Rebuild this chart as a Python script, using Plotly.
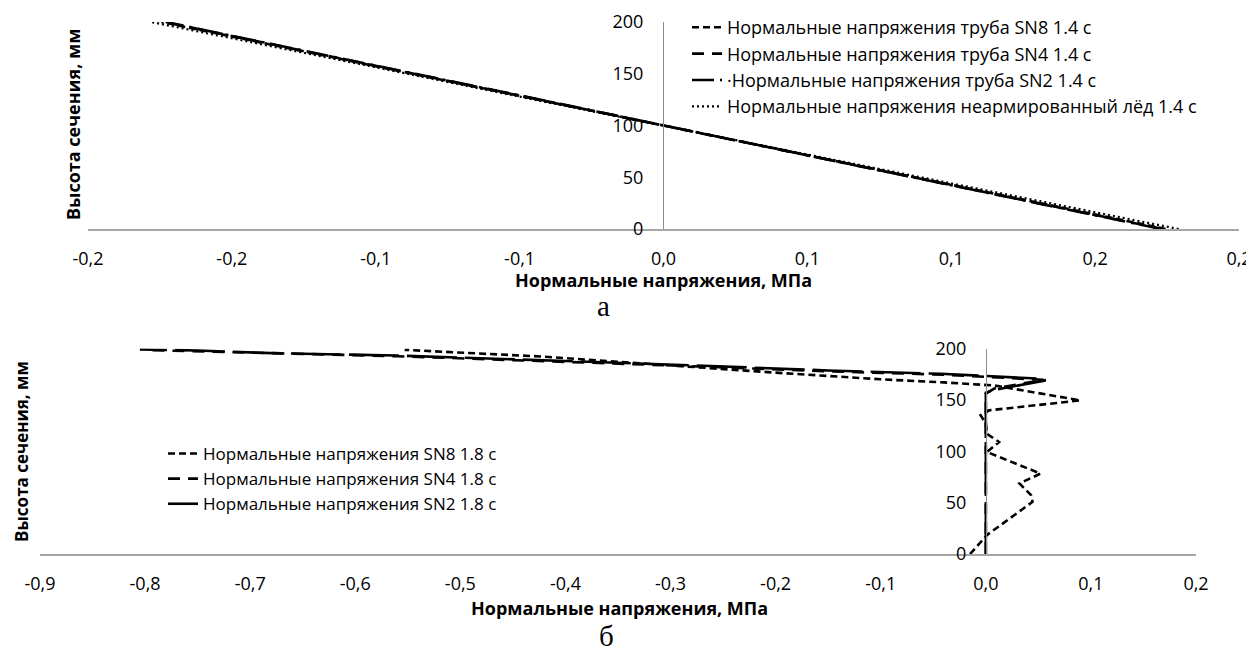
import plotly.graph_objects as go

W, H = 1254, 650

# ---------------- data: chart "а" (1.4 s) ----------------
top_heights = [0, 25, 50, 75, 100, 125, 150, 175, 200]
top_sn8 = [0.1745, 0.131, 0.087, 0.0435, 0.0, -0.0435, -0.087, -0.131, -0.1745]
top_sn4 = [0.1735, 0.130, 0.0865, 0.0435, 0.0, -0.0435, -0.0865, -0.130, -0.1735]
top_sn2 = [0.173, 0.130, 0.0865, 0.043, 0.0, -0.043, -0.0865, -0.1295, -0.173]
top_ice = [0.179, 0.134, 0.089, 0.045, 0.0, -0.045, -0.089, -0.134, -0.178]

top_xticks = [-0.2, -0.15, -0.1, -0.05, 0.0, 0.05, 0.1, 0.15, 0.2]
top_xtext = ["-0,2", "-0,2", "-0,1", "-0,1", "0,0", "0,1", "0,1", "0,2", "0,2"]
yticks = [0, 50, 100, 150, 200]

top_names = [
    "Нормальные напряжения труба SN8 1.4 с",
    "Нормальные напряжения труба SN4 1.4 с",
    "·Нормальные напряжения труба SN2 1.4 с",
    "Нормальные напряжения неармированный лёд 1.4 с",
]

# ---------------- data: chart "б" (1.8 s) ----------------
sn8_x = [-0.015, 0.001, 0.0445, 0.043, 0.032, 0.052, 0.001, 0.0126, 0.001, 0.0, -0.005,
         0.003, 0.09, 0.008, -0.04, -0.1, -0.2, -0.303, -0.423, -0.528, -0.553]
sn8_y = [0, 18.4, 50.8, 57.3, 68.6, 78.3, 99.3, 109, 117, 127, 135,
         139.8, 149.5, 164, 167, 170, 176.5, 183.5, 192.2, 197.4, 198.7]

sn4_x = [0.0, 0.0, 0.0, 0.0, 0.0, 0.008, 0.055, -0.04, -0.15, -0.30, -0.56, -0.70, -0.80]
sn4_y = [0, 50, 100, 150, 156, 161, 169.5, 174.5, 177.8, 183.5, 192.5, 196, 198.5]

sn2_x = [0.0, 0.0, 0.0, 0.0, 0.0, 0.01, 0.057, 0.052, -0.043, -0.15, -0.303, -0.561, -0.68, -0.75, -0.805]
sn2_y = [0, 50, 100, 150, 157, 160, 169, 170.6, 175.4, 178.6, 184.5, 193.2, 195.5, 198, 199]

bot_xticks = [-0.9, -0.8, -0.7, -0.6, -0.5, -0.4, -0.3, -0.2, -0.1, 0.0, 0.1, 0.2]
bot_xtext = ["-0,9", "-0,8", "-0,7", "-0,6", "-0,5", "-0,4", "-0,3", "-0,2", "-0,1", "0,0", "0,1", "0,2"]

bot_names = [
    "Нормальные напряжения SN8 1.8 с",
    "Нормальные напряжения SN4 1.8 с",
    "Нормальные напряжения SN2 1.8 с",
]

FONT = "Open Sans"
AXC = "#a6a6a6"
OFF = 8  # page body margin offset

fig = go.Figure()

top_dash = ["7px,4px", "12px,8px", "22px,6px,3px,6px", "2px,3px"]
top_w = [2.6, 2.6, 2.6, 2.2]
for xs, name, d, w in zip([top_sn8, top_sn4, top_sn2, top_ice], top_names, top_dash, top_w):
    fig.add_trace(go.Scatter(x=xs, y=top_heights, mode="lines", name=name,
                             line=dict(color="black", width=w, dash=d),
                             xaxis="x", yaxis="y", legend="legend"))

bot_dash = ["7px,4px", "12px,8px", "50px,8px"]
for xs, ys, name, d in zip([sn8_x, sn4_x, sn2_x], [sn8_y, sn4_y, sn2_y], bot_names, bot_dash):
    fig.add_trace(go.Scatter(x=xs, y=ys, mode="lines", name=name,
                             line=dict(color="black", width=2.6, dash=d),
                             xaxis="x2", yaxis="y2", legend="legend2"))


def py(pix):
    return (H - (pix - OFF)) / H


def px(pix):
    return (pix - OFF) / W


tickfont = dict(family=FONT, size=18, color="black")
common = dict(showgrid=False, zeroline=False, ticks="", automargin=False, tickfont=tickfont)

fig.update_layout(
    width=W, height=H,
    margin=dict(l=0, r=0, t=0, b=0, pad=0, autoexpand=False),
    paper_bgcolor="white", plot_bgcolor="white",
    font=dict(family=FONT, color="black"),
    xaxis=dict(domain=[px(88), px(1239)], range=[-0.2, 0.2], anchor="y",
               tickvals=top_xticks, ticktext=top_xtext,
               showline=True, linecolor=AXC, linewidth=2, ticklabelstandoff=12, **common),
    yaxis=dict(domain=[py(229), py(22)], range=[0, 200], anchor="free",
               position=px(663), tickvals=yticks,
               showline=True, linecolor="#8c8c8c", linewidth=1, ticklabelstandoff=16, **common),
    xaxis2=dict(domain=[px(40), px(1196)], range=[-0.9, 0.2], anchor="y2",
                tickvals=bot_xticks, ticktext=bot_xtext,
                showline=True, linecolor=AXC, linewidth=2, ticklabelstandoff=12, **common),
    yaxis2=dict(domain=[py(554), py(348.5)], range=[0, 200], anchor="free",
                position=px(986), tickvals=yticks,
                showline=True, linecolor="#8c8c8c", linewidth=1, ticklabelstandoff=16, **common),
    legend=dict(x=px(687), y=py(9), xanchor="left", yanchor="top",
                font=dict(family=FONT, size=18, color="black"),
                bgcolor="rgba(0,0,0,0)", tracegroupgap=0),
    legend2=dict(x=px(163), y=py(436), xanchor="left", yanchor="top",
                 font=dict(family=FONT, size=17, color="black"),
                 bgcolor="rgba(0,0,0,0)", tracegroupgap=0),
    showlegend=True,
)

ann = [
    dict(text="<b>Нормальные напряжения, МПа</b>", x=px(663), y=py(280), size=18),
    dict(text="<b>Высота сечения, мм</b>", x=px(73), y=py(125), textangle=-90, size=18),
    dict(text="<b>Нормальные напряжения, МПа</b>", x=px(619), y=py(608), size=18),
    dict(text="<b>Высота сечения, мм</b>", x=px(21), y=py(452), textangle=-90, size=17),
]
for a in ann:
    size = a.pop("size")
    fig.add_annotation(xref="paper", yref="paper", showarrow=False,
                       xanchor="center", yanchor="middle",
                       font=dict(family=FONT, size=size, color="black"), **a)

for t, x, y in [("а", 603, 306), ("б", 606, 636)]:
    fig.add_annotation(text=t, xref="paper", yref="paper", x=px(x), y=py(y),
                       showarrow=False, xanchor="center", yanchor="middle",
                       font=dict(family="Liberation Serif", size=29, color="black"))

fig.write_html("out.html")
